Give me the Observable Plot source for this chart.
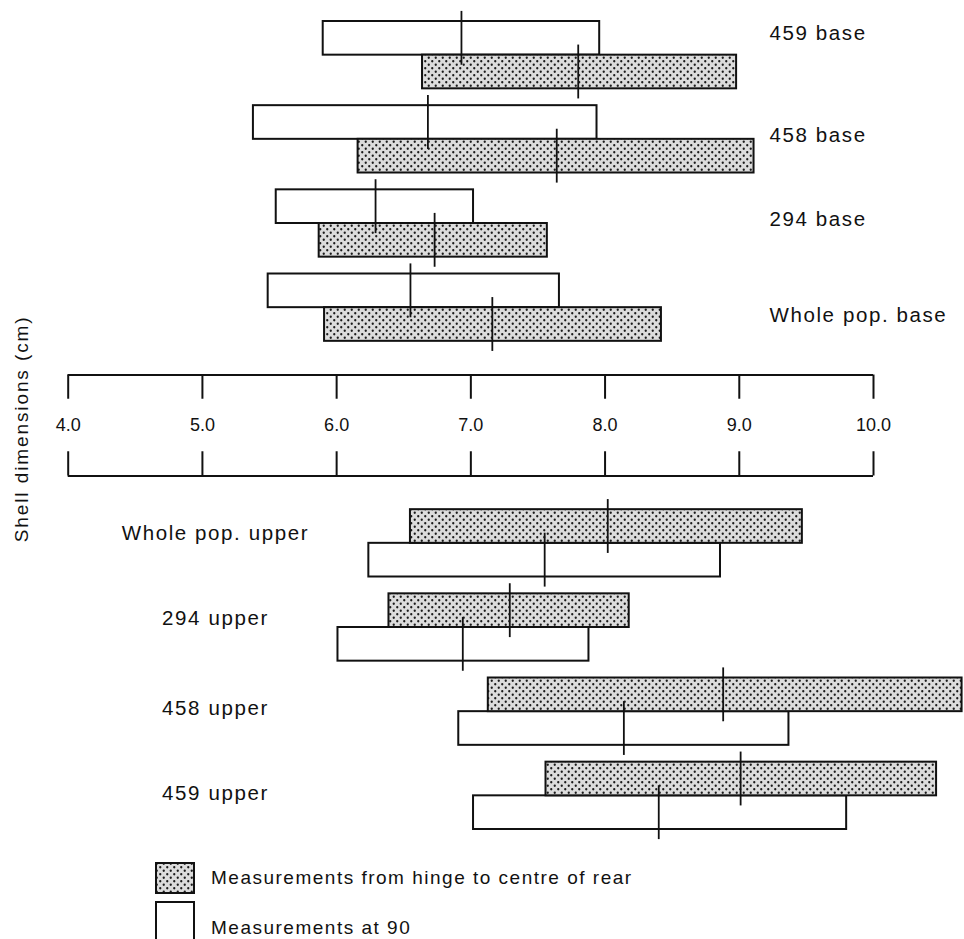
<!DOCTYPE html>
<html>
<head>
<meta charset="utf-8">
<script src="https://cdn.jsdelivr.net/npm/d3@7"></script>
<script src="https://cdn.jsdelivr.net/npm/@observablehq/plot@0.6"></script>
<style>
  body { margin: 0; background: #fff; }
  #wrap { position: relative; width: 964px; height: 939px; overflow: hidden; background: #fff;
          font-family: "Liberation Sans", Arial, Helvetica, sans-serif; color: #111; }
  #chart { position: absolute; left: 0; top: 0; }
  .sw { position: absolute; left: 155px; }
  .lt { position: absolute; left: 211px; font-size: 19px; letter-spacing: 1.5px; line-height: 24px; white-space: nowrap; }
</style>
</head>
<body>
<div id="wrap">
  <div id="chart"></div>
  <svg class="sw" style="top:862px" width="40" height="32">
    <defs>
      <pattern id="dotsLeg" patternUnits="userSpaceOnUse" width="7" height="7">
        <rect width="7" height="7" fill="#dcdcdc"></rect>
        <circle cx="1.75" cy="1.75" r="1.15" fill="#1a1a1a"></circle>
        <circle cx="5.25" cy="5.25" r="1.15" fill="#1a1a1a"></circle>
      </pattern>
    </defs>
    <rect x="1" y="1" width="38" height="30" fill="url(#dotsLeg)" stroke="#111" stroke-width="2"></rect>
  </svg>
  <div class="lt" style="top:866px">Measurements from hinge to centre of rear</div>
  <svg class="sw" style="top:901px" width="40" height="44">
    <rect x="1" y="1" width="38" height="42" fill="#fff" stroke="#111" stroke-width="2"></rect>
  </svg>
  <div class="lt" style="top:916px">Measurements at 90</div>
</div>
<script>
// ---- data (cm) ----
const groups = ["459 base", "458 base", "294 base", "Whole pop. base",
                "Whole pop. upper", "294 upper", "458 upper", "459 upper"];
// Measurements from hinge to centre of rear (dotted bars)
const hingeMin = [6.64, 6.16, 5.87, 5.91, 6.55, 6.39, 7.13, 7.56];
const hingeMax = [8.98, 9.11, 7.57, 8.42, 9.47, 8.18, 10.66, 10.47];
const hingeMid = [7.80, 7.64, 6.73, 7.16, 8.02, 7.29, 8.88, 9.01];
// Measurements at 90 (open bars)
const at90Min = [5.90, 5.38, 5.55, 5.49, 6.24, 6.01, 6.91, 7.02];
const at90Max = [7.96, 7.94, 7.02, 7.66, 8.86, 7.88, 9.37, 9.80];
const at90Mid = [6.93, 6.68, 6.29, 6.55, 7.55, 6.94, 8.14, 8.40];
// axis
const axisTicks = [4, 5, 6, 7, 8, 9, 10];
const tickLabels = ["4.0", "5.0", "6.0", "7.0", "8.0", "9.0", "10.0"];
const yTitle = "Shell dimensions (cm)";

// ---- layout (row units; one bar = 1 unit) ----
const groupStart = i => (i < 4 ? i * 2.5 : 14.5 + (i - 4) * 2.5);
const labelOffset = [0.36, 0.89, 0.88, 1.23, 0.7, 0.73, 0.9, 0.93];
const axisTop = 10.5, axisBottom = 13.5, axisMid = 12, tickLen = 0.72;

const rows = [];
groups.forEach((g, i) => {
  const s = groupStart(i);
  const upper = i >= 4; // lower half: dotted bar on top
  rows.push({group: g, kind: "at90", lo: at90Min[i], hi: at90Max[i], mid: at90Mid[i], y1: s + (upper ? 1 : 0)});
  rows.push({group: g, kind: "hinge", lo: hingeMin[i], hi: hingeMax[i], mid: hingeMid[i], y1: s + (upper ? 0 : 1)});
});
rows.forEach(r => r.y2 = r.y1 + 1);

const labels = groups.map((g, i) => ({text: g, y: groupStart(i) + labelOffset[i], side: i < 4 ? "right" : "left"}));

const ink = "#111";
const svg = Plot.plot({
  width: 964,
  height: 852,
  marginLeft: 67.7,
  marginRight: 91,
  marginTop: 21,
  marginBottom: 23,
  style: {fontFamily: "Liberation Sans, Arial, Helvetica, sans-serif", background: "white", color: ink},
  x: {domain: [4, 10], axis: null},
  y: {domain: [0, 24], reverse: true, axis: null},
  marks: [
    Plot.rect(rows.filter(d => d.kind === "at90"), {x1: "lo", x2: "hi", y1: "y1", y2: "y2", fill: "white", stroke: ink, strokeWidth: 2}),
    Plot.rect(rows.filter(d => d.kind === "hinge"), {x1: "lo", x2: "hi", y1: "y1", y2: "y2", fill: "url(#dots)", stroke: ink, strokeWidth: 2}),
    Plot.ruleX(rows, {x: "mid", y1: d => d.y1 - 0.3, y2: d => d.y2 + 0.3, stroke: ink, strokeWidth: 1.8}),
    // central scale
    Plot.ruleY([axisTop, axisBottom], {x1: axisTicks[0], x2: axisTicks[axisTicks.length - 1], stroke: ink, strokeWidth: 2}),
    Plot.ruleX(axisTicks, {x: d => d, y1: axisTop, y2: axisTop + tickLen, stroke: ink, strokeWidth: 2}),
    Plot.ruleX(axisTicks, {x: d => d, y1: axisBottom - tickLen, y2: axisBottom, stroke: ink, strokeWidth: 2}),
    Plot.text(axisTicks, {x: d => d, y: axisMid, text: (d, i) => tickLabels[i], fontSize: 18, fill: ink}),
    // group labels
    Plot.text(labels.filter(d => d.side === "right"), {x: 9.225, y: "y", text: "text", textAnchor: "start", fontSize: 20.5, fill: ink}),
    Plot.text(labels.filter(d => d.side === "left"), {x: 5.097, y: "y", text: "text", textAnchor: "middle", fontSize: 20.5, fill: ink}),
    // vertical title
    Plot.text([yTitle], {x: 3.652, y: axisMid + 0.1, text: d => d, rotate: -90, fontSize: 19, fill: ink})
  ]
});

// dotted fill pattern
const defs = d3.select(svg).insert("defs", ":first-child");
const pat = defs.append("pattern").attr("id", "dots").attr("patternUnits", "userSpaceOnUse")
  .attr("width", 7).attr("height", 7);
pat.append("rect").attr("width", 7).attr("height", 7).attr("fill", "#dcdcdc");
pat.append("circle").attr("cx", 1.75).attr("cy", 1.75).attr("r", 1.15).attr("fill", "#1a1a1a");
pat.append("circle").attr("cx", 5.25).attr("cy", 5.25).attr("r", 1.15).attr("fill", "#1a1a1a");

// wider tracking like the original typesetting
d3.select(svg).selectAll("text").each(function() {
  const t = this.textContent;
  if (groups.includes(t)) this.setAttribute("letter-spacing", "1.6");
  else if (t === yTitle) this.setAttribute("letter-spacing", "1.9");
});

document.getElementById("chart").append(svg);
</script>
</body>
</html>
